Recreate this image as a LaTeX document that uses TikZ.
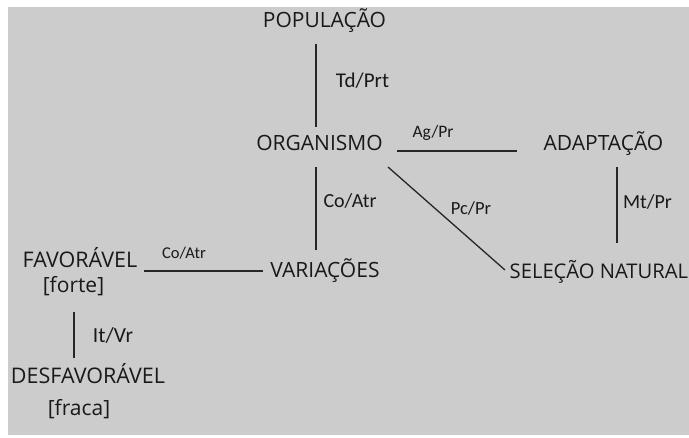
\documentclass[tikz,border=0pt]{standalone}
\usepackage{fontspec}
\setmainfont{Open Sans}
\newfontfamily\lbl{Carlito}
\usetikzlibrary{calc}
\definecolor{bg}{HTML}{CCCCCC}
\begin{document}
\begin{tikzpicture}[x=1pt,y=-1pt,
 word/.style={inner sep=0pt, text height=0.68em, text depth=0pt, font=\fontsize{21}{24}\selectfont, text=black!90},
 br/.style={inner sep=0pt, font=\fontsize{21}{24}\selectfont, text=black!90},
 lab/.style={inner sep=0pt, text height=0.644em, text depth=0pt, text=black!90},
 conn/.style={line width=1.3pt, draw=black!85}]
\useasboundingbox (0,0) rectangle (689,437);
\fill[white] (0,0) rectangle (689,437);
\fill[bg] (8,7) rectangle (689,435);
% main terms
\node[word] (pop) at (324.5,24.5) {POPULAÇÃO};
\node[word] (org) at (319.5,147) {ORGANISMO};
\node[word] (adap) at (603.5,147) {ADAPTAÇÃO};
\node[word, anchor=west, font=\fontsize{20.2}{24}\selectfont] (sel) at (509.5,275) {SELEÇÃO NATURAL};
\node[word] (var) at (325,274.5) {VARIAÇÕES};
\node[word, font=\fontsize{21.5}{24}\selectfont] (fav) at (80,264.5) {FAVORÁVEL};
\node[br] (forte) at (73.5,286) {[forte]};
\node[word, font=\fontsize{21.5}{24}\selectfont] (desf) at (88,380.5) {DESFAVORÁVEL};
\node[br] (fraca) at (79,409) {[fraca]};
% labels
\node[lab, font=\lbl\fontsize{21}{24}\selectfont] (ltd) at (362.5,84) {Td/Prt};
\node[lab, font=\lbl\fontsize{17.5}{20}\selectfont] (lag) at (433,134.5) {Ag/Pr};
\node[lab, font=\lbl\fontsize{20}{24}\selectfont] (lco) at (350,204.5) {Co/Atr};
\node[lab, font=\lbl\fontsize{18.5}{22}\selectfont] (lpc) at (471,211.5) {Pc/Pr};
\node[lab, font=\lbl\fontsize{20}{24}\selectfont] (lmt) at (647.5,205.5) {Mt/Pr};
\node[lab, font=\lbl\fontsize{16.5}{20}\selectfont] (lco2) at (184,255) {Co/Atr};
\node[lab, font=\lbl\fontsize{21.5}{24}\selectfont] (lit) at (113,339) {It/Vr};
% connectors
\draw[conn] ($(pop.center)+(-8.5,19)$) -- ($(org.center)+(-3.5,-20)$);
\draw[conn] ($(org.center)+(-3.5,20)$) -- ($(var.center)+(-9,-24.5)$);
\draw[conn] ($(org.center)+(77.5,4)$) -- ($(adap.center)+(-86.5,4)$);
\draw[conn] ($(org.center)+(68.5,20)$) -- ($(sel.west)+(-4.5,-5)$);
\draw[conn] ($(adap.center)+(13.5,20)$) -- ($(adap.center)+(13.5,96)$);
\draw[conn] ($(fav.center)+(64,6.5)$) -- ($(var.center)+(-62,-3.5)$);
\draw[conn] ($(forte.center)+(0.5,26)$) -- ($(desf.center)+(-14,-22.5)$);
\end{tikzpicture}
\end{document}
